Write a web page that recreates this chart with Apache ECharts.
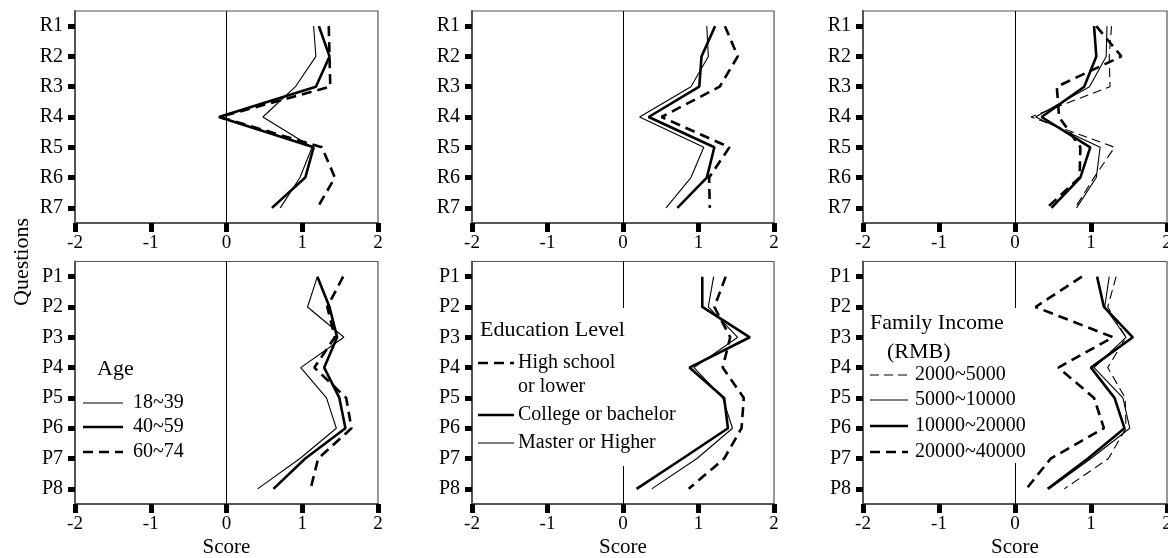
<!DOCTYPE html>
<html>
<head>
<meta charset="utf-8">
<script src="https://cdn.jsdelivr.net/npm/echarts@6/dist/echarts.min.js"></script>
<style>
  html, body { margin: 0; padding: 0; background: #fff; }
  #chart { width: 1168px; height: 558px; }
</style>
</head>
<body>
<div id="chart"></div>
<script>
// Question labels and score ticks
const rQuestions = ['R1', 'R2', 'R3', 'R4', 'R5', 'R6', 'R7'];
const pQuestions = ['P1', 'P2', 'P3', 'P4', 'P5', 'P6', 'P7', 'P8'];
const scoreTicks = [-2, -1, 0, 1, 2];

// Group names
const ageGroups = ['18~39', '40~59', '60~74'];
const eduGroups = ['High school\nor lower', 'College or bachelor', 'Master or Higher'];
const incomeGroups = ['2000~5000', '5000~10000', '10000~20000', '20000~40000'];

// Mean scores, R questions
const ageR1839 = [1.15, 1.18, 0.91, 0.48, 1.13, 0.97, 0.71];
const ageR4059 = [1.22, 1.36, 1.18, -0.10, 1.15, 1.04, 0.60];
const ageR6074 = [1.35, 1.36, 1.37, -0.09, 1.26, 1.43, 1.20];

const eduRHigh = [1.35, 1.52, 1.28, 0.51, 1.41, 1.14, 1.15];
const eduRCollege = [1.22, 1.04, 1.01, 0.34, 1.21, 1.11, 0.72];
const eduRMaster = [1.11, 1.13, 0.90, 0.22, 1.07, 0.90, 0.57];

const incR2000 = [1.27, 1.24, 1.25, 0.21, 1.31, 1.04, 0.79];
const incR5000 = [1.21, 1.20, 0.98, 0.27, 1.12, 1.07, 0.81];
const incR10000 = [1.04, 1.07, 0.91, 0.35, 0.99, 0.86, 0.48];
const incR20000 = [1.07, 1.40, 0.55, 0.58, 0.86, 0.85, 0.42];

// Mean scores, P questions
const ageP1839 = [1.20, 1.07, 1.55, 0.98, 1.32, 1.45, 0.97, 0.41];
const ageP4059 = [1.20, 1.36, 1.46, 1.29, 1.49, 1.57, 1.04, 0.62];
const ageP6074 = [1.54, 1.33, 1.43, 1.16, 1.58, 1.65, 1.21, 1.11];

const eduPHigh = [1.36, 1.21, 1.42, 1.32, 1.60, 1.57, 1.34, 0.87];
const eduPCollege = [1.05, 1.05, 1.68, 0.88, 1.34, 1.39, 0.79, 0.18];
const eduPMaster = [1.20, 1.13, 1.52, 0.94, 1.32, 1.45, 0.98, 0.38];

const incP2000 = [1.33, 1.22, 1.46, 1.22, 1.45, 1.46, 1.23, 0.65];
const incP5000 = [1.24, 1.18, 1.46, 1.04, 1.42, 1.51, 1.00, 0.45];
const incP10000 = [1.08, 1.17, 1.55, 1.00, 1.31, 1.44, 0.96, 0.43];
const incP20000 = [0.88, 0.27, 1.29, 0.57, 1.04, 1.17, 0.47, 0.15];

// Line styles
const FONT = '"Liberation Serif", "Times New Roman", serif';
const thin = { width: 1.1, dash: null };
const thick = { width: 2.6, dash: null };
const thickDash = { width: 2.6, dash: [10, 6] };
const thinDash = { width: 1.1, dash: [9, 5] };

const ageStyles = [thin, thick, thickDash];
const eduStyles = [thickDash, thick, thin];
const incomeStyles = [thinDash, thin, thick, thickDash];

// Panel layout: 3 columns x 2 rows
const cols = [{ left: 75, width: 303 }, { left: 472, width: 302 }, { left: 863, width: 304 }];
const rows = [{ top: 11, height: 212 }, { top: 261.5, height: 242.5 }];

const panels = [
  { row: 0, col: 0, cats: rQuestions, groups: ageGroups, styles: ageStyles, values: [ageR1839, ageR4059, ageR6074] },
  { row: 0, col: 1, cats: rQuestions, groups: eduGroups, styles: eduStyles, values: [eduRHigh, eduRCollege, eduRMaster] },
  { row: 0, col: 2, cats: rQuestions, groups: incomeGroups, styles: incomeStyles, values: [incR2000, incR5000, incR10000, incR20000] },
  { row: 1, col: 0, cats: pQuestions, groups: ageGroups, styles: ageStyles, values: [ageP1839, ageP4059, ageP6074] },
  { row: 1, col: 1, cats: pQuestions, groups: eduGroups, styles: eduStyles, values: [eduPHigh, eduPCollege, eduPMaster] },
  { row: 1, col: 2, cats: pQuestions, groups: incomeGroups, styles: incomeStyles, values: [incP2000, incP5000, incP10000, incP20000] }
];

const grid = [], xAxis = [], yAxis = [], series = [];

panels.forEach((p, i) => {
  grid.push({
    left: cols[p.col].left, width: cols[p.col].width,
    top: rows[p.row].top, height: rows[p.row].height,
    containLabel: false, outerBoundsMode: 'none',
    show: true, borderColor: '#555', borderWidth: 1.2, backgroundColor: 'transparent'
  });
  xAxis.push({
    gridIndex: i, type: 'value',
    min: scoreTicks[0], max: scoreTicks[scoreTicks.length - 1], interval: 1,
    axisLine: { show: true, onZero: false, lineStyle: { color: '#555', width: 2 } },
    axisTick: { show: true, length: 9, lineStyle: { color: '#000', width: 5 } },
    axisLabel: { color: '#000', fontFamily: FONT, fontSize: 19, margin: 11 },
    splitLine: { show: false },
    name: p.row === 1 ? 'Score' : '',
    nameLocation: 'middle', nameGap: 33,
    nameTextStyle: { color: '#000', fontFamily: FONT, fontSize: 21 }
  });
  yAxis.push({
    gridIndex: i, type: 'category', data: p.cats, inverse: true, boundaryGap: true,
    axisLine: { show: true, onZero: false, lineStyle: { color: '#555', width: 2 } },
    axisTick: { show: true, alignWithLabel: true, length: 7, lineStyle: { color: '#000', width: 5 } },
    axisLabel: { color: '#000', fontFamily: FONT, fontSize: 20, margin: 12 },
    splitLine: { show: false }
  });
  p.values.forEach((vals, k) => {
    const st = p.styles[k];
    const s = {
      type: 'line', name: p.groups[k], xAxisIndex: i, yAxisIndex: i,
      data: vals.map((v, j) => [v, p.cats[j]]),
      symbol: 'none', silent: true, animation: false,
      lineStyle: { color: '#000', width: st.width, type: st.dash || 'solid' }
    };
    if (k === 0) {
      // vertical reference line at score 0
      s.markLine = {
        silent: true, animation: false, symbol: ['none', 'none'],
        label: { show: false },
        lineStyle: { color: '#000', width: 1, type: 'solid' },
        data: [{ xAxis: 0 }]
      };
    }
    series.push(s);
  });
});

// Legend blocks drawn as graphic elements
function legendBlock(cfg) {
  const els = [];
  if (cfg.bg) {
    els.push({ type: 'rect', z: 20, silent: true,
      shape: { x: cfg.bg[0], y: cfg.bg[1], width: cfg.bg[2], height: cfg.bg[3] },
      style: { fill: '#fff' } });
  }
  cfg.titles.forEach(t => {
    els.push({ type: 'text', z: 21, silent: true, x: t[1], y: t[2],
      style: { text: t[0], fill: '#000', fontFamily: FONT, fontSize: 22,
        align: 'left', verticalAlign: 'middle' } });
  });
  cfg.names.forEach((name, k) => {
    const st = cfg.styles[k];
    const y = cfg.ys[k];
    els.push({ type: 'line', z: 21, silent: true,
      shape: { x1: cfg.x1, y1: y, x2: cfg.x2, y2: y },
      style: { stroke: '#000', lineWidth: st.width, lineDash: st.dash || null } });
    els.push({ type: 'text', z: 21, silent: true, x: cfg.tx, y: y - 12,
      style: { text: name, fill: '#000', fontFamily: FONT, fontSize: 20,
        lineHeight: 24, align: 'left', verticalAlign: 'top' } });
  });
  return els;
}

const graphicEls = [].concat(
  legendBlock({ titles: [['Age', 97, 369]], names: ageGroups, styles: ageStyles,
    x1: 83, x2: 123, tx: 133, ys: [403, 427, 452] }),
  legendBlock({ bg: [475, 308, 172, 158], titles: [['Education Level', 480, 330]],
    names: eduGroups, styles: eduStyles, x1: 478, x2: 514, tx: 518, ys: [363, 415, 443] }),
  legendBlock({ bg: [866, 308, 160, 155], titles: [['Family Income', 870, 323], ['(RMB)', 887, 352]],
    names: incomeGroups, styles: incomeStyles, x1: 870, x2: 908, tx: 915, ys: [375, 400, 426, 452] }),
  [{ type: 'text', z: 21, silent: true, x: 22, y: 262, rotation: Math.PI / 2,
     style: { text: 'Questions', fill: '#000', fontFamily: FONT, fontSize: 22,
       align: 'center', verticalAlign: 'middle' } }]
);

const chart = echarts.init(document.getElementById('chart'), null, { renderer: 'canvas' });
chart.setOption({
  animation: false,
  backgroundColor: '#fff',
  grid, xAxis, yAxis, series,
  graphic: { elements: graphicEls }
});
</script>
</body>
</html>
